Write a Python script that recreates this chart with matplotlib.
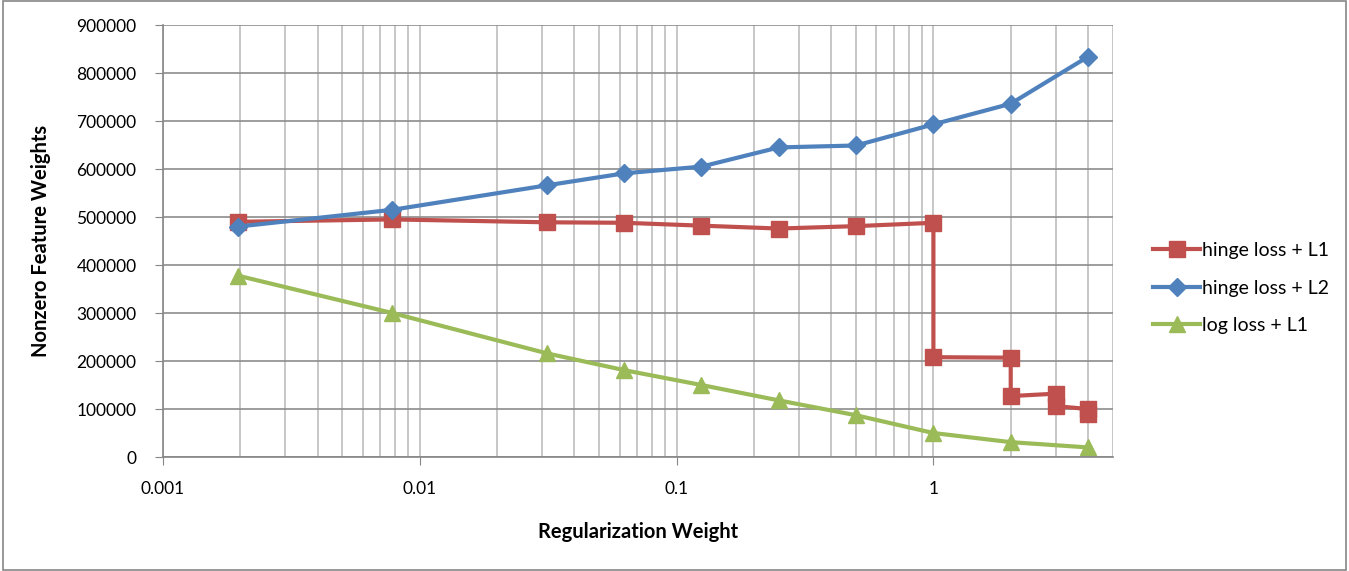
import matplotlib
matplotlib.use("Agg")
import matplotlib.pyplot as plt
from matplotlib.ticker import LogLocator, FixedLocator, NullFormatter
from matplotlib.patches import Rectangle

plt.rcParams["font.family"] = ["Lato", "DejaVu Sans"]

# regularization weights (x) and nonzero feature counts per series
x_l1 = [1/512, 1/128, 1/32, 1/16, 1/8, 1/4, 1/2, 1, 1, 2, 2, 3, 3, 4, 4]
hinge_l1 = [490000, 495000, 489000, 488000, 482000, 476000, 481000, 488000,
            208000, 207000, 127000, 132000, 106000, 100000, 89000]

x_l2 = [1/512, 1/128, 1/32, 1/16, 1/8, 1/4, 1/2, 1, 2, 4]
hinge_l2 = [480000, 515000, 566000, 591000, 605000, 645000, 649000, 693000, 736000, 834000]

x_log = [1/512, 1/128, 1/32, 1/16, 1/8, 1/4, 1/2, 1, 2, 4]
log_l1 = [378000, 300000, 216000, 181000, 150000, 118000, 87000, 50000, 31000, 20000]

yticks = list(range(0, 900001, 100000))
xticks = [0.001, 0.01, 0.1, 1]
xtick_labels = ["0.001", "0.01", "0.1", "1"]

RED = "#C0504D"
BLUE = "#4F81BD"
GREEN = "#9BBB59"

fig = plt.figure(figsize=(13.49, 5.71), dpi=100)
ax = fig.add_axes([0.1208, 0.1996, 0.7042, 0.7566])

ax.plot(x_l1, hinge_l1, "-s", color=RED, lw=3, ms=11, label="hinge loss + L1")
ax.plot(x_l2, hinge_l2, "-D", color=BLUE, lw=3, ms=9, label="hinge loss + L2")
ax.plot(x_log, log_l1, "-^", color=GREEN, lw=3, ms=11, label="log loss + L1")

ax.set_xscale("log")
ax.set_xlim(0.001, 5)
ax.set_ylim(0, 900000)
ax.set_yticks(yticks)
ax.set_yticklabels([str(v) for v in yticks])
ax.xaxis.set_major_locator(FixedLocator(xticks))
ax.set_xticklabels(xtick_labels)
ax.xaxis.set_minor_locator(LogLocator(base=10, subs=range(2, 10)))
ax.xaxis.set_minor_formatter(NullFormatter())

ax.grid(True, which="major", axis="y", color="#8C8C8C", lw=1.2)
ax.grid(True, which="both", axis="x", color="#BEBEBE", lw=1.2)
ax.set_axisbelow(True)

for side in ["top", "right"]:
    ax.spines[side].set_visible(False)
for side in ["left", "bottom"]:
    ax.spines[side].set_color("#868686")
    ax.spines[side].set_linewidth(1.2)

ax.tick_params(axis="y", which="major", length=6, color="#868686", labelsize=12.5, pad=13)
ax.tick_params(axis="x", which="major", length=6, color="#868686", labelsize=12.5, pad=11)
ax.tick_params(axis="x", which="minor", length=0)

ax.set_xlabel("Regularization Weight", fontsize=14.5, fontweight="bold", labelpad=18)
ax.set_ylabel("Nonzero Feature Weights", fontsize=14.5, fontweight="bold", labelpad=18)

ax.legend(loc="center left", bbox_to_anchor=(1.024, 0.391), frameon=False,
          fontsize=14, handlelength=2.4, handletextpad=0.1, labelspacing=1.05)

fig.patches.append(Rectangle((0.002, 0.002), 0.996, 0.996, transform=fig.transFigure,
                             fill=False, edgecolor="#868686", lw=1.2))

fig.savefig("out.png", dpi=100)
